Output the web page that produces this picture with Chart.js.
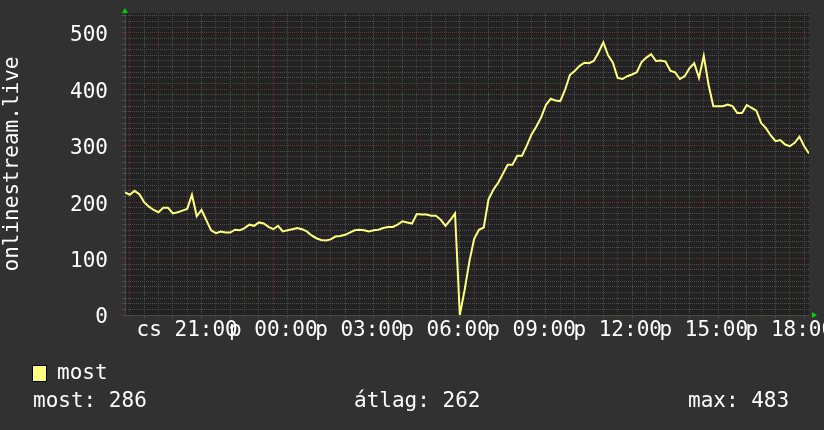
<!DOCTYPE html>
<html><head><meta charset="utf-8">
<script src="https://cdn.jsdelivr.net/npm/chart.js@4/dist/chart.umd.min.js"></script>
<style>
html,body{margin:0;padding:0;background:#313131;overflow:hidden}
#wrap{width:824px;height:430px;position:relative}
</style>
</head><body><div id="wrap"><canvas id="c" width="824" height="430"></canvas></div>
<script>
// ---- data ----
const seriesName = 'most';
const startHour = -5 - 10 / 60;      // Thu 18:50, hours relative to Fri 00:00
const stepMinutes = 10;
const values = [
  217, 213, 220, 214, 200, 192, 186, 182, 190, 190,
  180, 182, 185, 188, 213, 175, 186, 168, 150, 145,
  148, 146, 146, 151, 150, 154, 160, 158, 164, 162,
  156, 152, 158, 148, 150, 152, 154, 152, 148, 141,
  136, 133, 132, 134, 139, 140, 142, 146, 150, 151,
  150, 148, 150, 151, 154, 156, 156, 160, 166, 164,
  162, 179, 178, 178, 176, 176, 169, 158, 168, 180,
  0, 44, 95, 135, 151, 155, 205, 222, 234, 250,
  266, 266, 282, 282, 300, 320, 334, 350, 372, 383,
  380, 379, 399, 425, 432, 441, 447, 446, 450, 465,
  483, 460, 447, 420, 418, 423, 426, 430, 448, 456,
  462, 450, 451, 449, 433, 430, 418, 423, 437, 446,
  420, 459, 408, 370, 370, 370, 373, 370, 358, 358,
  372, 367, 362, 340, 331, 318, 308, 310, 302, 299,
  305, 316, 299, 286
];
const tickHours = [-3, 0, 3, 6, 9, 12, 15, 18];
const tickLabels = ['cs 21:00', 'p 00:00', 'p 03:00', 'p 06:00', 'p 09:00', 'p 12:00', 'p 15:00', 'p 18:00'];
const yLabelValues = [0, 100, 200, 300, 400, 500];
const yTitle = 'onlinestream.live';
const statLabels = ['most: 286', 'átlag: 262', 'max: 483'];

// ---- styling ----
const FONT = 'DejaVu Sans Mono';
const TXT = '#ffffff';
const LINE = '#ffff80';
const MAJOR = '#6a3030';
const MINOR = '#4e4e4e';
const AXIS = '#484848';

const points = values.map((v, i) => ({ x: startHour + i * stepMinutes / 60, y: v }));
const xMax = startHour + (values.length - 1) * stepMinutes / 60;

const isWhole = v => Math.abs(v - Math.round(v)) < 1e-6;

const decor = {
  id: 'decor',
  beforeDraw(chart) {
    const { ctx, chartArea: a } = chart;
    ctx.save();
    ctx.fillStyle = '#222222';
    ctx.fillRect(a.left, a.top, a.right - a.left, a.bottom - a.top);
    ctx.restore();
  },
  afterDraw(chart) {
    const { ctx, chartArea: a } = chart;
    ctx.save();
    // axis arrows
    ctx.fillStyle = '#00d000';
    ctx.beginPath();
    ctx.moveTo(a.left - 3, a.top);
    ctx.lineTo(a.left + 3, a.top);
    ctx.lineTo(a.left, a.top - 5);
    ctx.closePath();
    ctx.fill();
    ctx.beginPath();
    ctx.moveTo(a.right + 3, a.bottom - 3);
    ctx.lineTo(a.right + 3, a.bottom + 3);
    ctx.lineTo(a.right + 8, a.bottom);
    ctx.closePath();
    ctx.fill();
    // legend
    ctx.fillStyle = LINE;
    ctx.fillRect(33, 366, 13, 15);
    ctx.strokeStyle = '#000000';
    ctx.lineWidth = 1;
    ctx.strokeRect(32.5, 365.5, 14, 16);
    ctx.font = '21px "' + FONT + '"';
    ctx.fillStyle = TXT;
    ctx.textBaseline = 'middle';
    ctx.textAlign = 'left';
    ctx.fillText(seriesName, 57, 374);
    const sx = [33, 354, 688];
    statLabels.forEach((t, k) => ctx.fillText(t, sx[k], 402));
    ctx.restore();
  }
};

new Chart(document.getElementById('c'), {
  type: 'line',
  data: {
    datasets: [{
      label: seriesName,
      data: points,
      borderColor: LINE,
      borderWidth: 2,
      pointRadius: 0,
      tension: 0,
      fill: false
    }]
  },
  options: {
    responsive: false,
    animation: false,
    devicePixelRatio: 1,
    layout: { padding: { top: 13, right: 15, left: 0, bottom: 0 } },
    plugins: { legend: { display: false }, tooltip: { enabled: false } },
    scales: {
      x: {
        type: 'linear',
        min: startHour,
        max: xMax,
        afterFit: s => { s.height = 115; s.paddingLeft = 0; s.paddingRight = 0; },
        ticks: {
          stepSize: 0.5,
          includeBounds: false,
          autoSkip: false,
          maxRotation: 0,
          minRotation: 0,
          color: TXT,
          font: { family: FONT, size: 21 },
          padding: 0,
          callback: v => {
            const k = tickHours.findIndex(h => Math.abs(h - v) < 1e-6);
            return k >= 0 ? tickLabels[k] : '';
          }
        },
        grid: {
          color: c => isWhole(c.tick.value) ? MAJOR : MINOR,
          tickColor: c => isWhole(c.tick.value) ? MAJOR : MINOR,
          tickLength: 3,
          lineWidth: 1
        },
        border: { display: true, color: AXIS, width: 1, dash: [1, 1] }
      },
      y: {
        min: 0,
        max: 535,
        afterFit: s => { s.width = 125; s.paddingTop = 0; s.paddingBottom = 0; },
        ticks: {
          stepSize: 10,
          includeBounds: false,
          autoSkip: false,
          color: TXT,
          font: { family: FONT, size: 21 },
          padding: 14,
          labelOffset: 3,
          callback: v => yLabelValues.includes(v) ? String(v) : ''
        },
        grid: {
          color: c => c.tick.value === 0 ? AXIS : (c.tick.value % 100 === 0 ? MAJOR : MINOR),
          tickColor: c => c.tick.value % 100 === 0 ? MAJOR : MINOR,
          tickLength: 3,
          lineWidth: 1
        },
        border: { display: true, color: AXIS, width: 1, dash: [1, 1] },
        title: {
          display: true,
          text: yTitle,
          color: TXT,
          font: { family: FONT, size: 21 },
          padding: 0
        }
      }
    }
  },
  plugins: [decor]
});
</script>
</body></html>
